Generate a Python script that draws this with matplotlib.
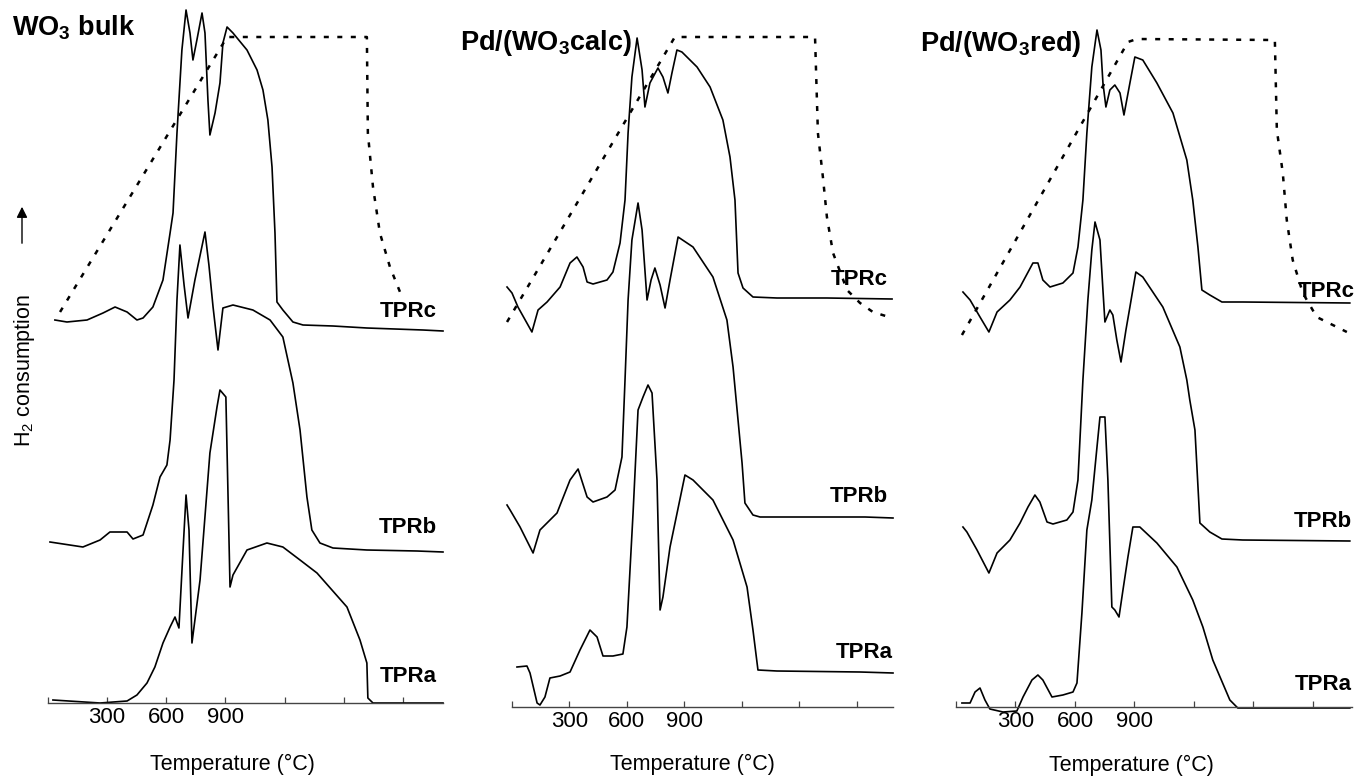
import matplotlib
matplotlib.use('Agg')
import matplotlib.pyplot as plt
from matplotlib.patches import FancyArrowPatch

plt.rcParams['font.family'] = ['Liberation Sans', 'DejaVu Sans']
plt.rcParams['mathtext.fontset'] = 'custom'
plt.rcParams['mathtext.rm'] = 'Liberation Sans'
plt.rcParams['mathtext.default'] = 'regular'

# ---------------- data (x: temperature-scale units, y: stacked H2 signal, a.u.) -------------
tick_values = [0, 300, 600, 900, 1200, 1500, 1800]
tick_labels = ['', '300', '600', '900', '', '', '']
titles = [r'WO$_3$ bulk', r'Pd/(WO$_3$calc)', r'Pd/(WO$_3$red)']
xlabel = 'Temperature (°C)'
ylabel = r'H$_2$ consumption'

# Panel 1: WO3 bulk
wo3_c_x = [35, 96, 198, 279, 340, 401, 451, 482, 532, 583, 619, 634, 654, 679, 700, 720, 735, 755, 781, 796,
           811, 821, 847, 872, 887, 908, 938, 1009, 1060, 1090, 1115, 1136, 1151, 1161, 1191, 1242, 1293,
           1445, 1617, 1901, 2003]
wo3_c_y = [383, 381, 383, 390, 396, 391, 383, 385, 396, 423, 470, 490, 570, 653, 693, 670, 643, 663, 690, 670,
           603, 568, 590, 620, 660, 676, 670, 653, 633, 613, 583, 536, 470, 401, 393, 381, 378,
           377, 375, 373, 372]
wo3_b_x = [10, 177, 264, 314, 401, 431, 482, 507, 532, 568, 603, 619, 639, 654, 669, 690, 710, 745, 796, 816,
           837, 862, 887, 938, 1039, 1126, 1191, 1242, 1278, 1313, 1338, 1379, 1445, 1617, 1871, 2003]
wo3_b_y = [161, 156, 163, 171, 171, 164, 168, 183, 198, 226, 238, 263, 323, 403, 458, 418, 385, 423, 471, 438,
           396, 353, 395, 398, 393, 383, 366, 320, 273, 206, 173, 160, 155, 153, 152, 151]
wo3_a_x = [25, 264, 401, 451, 502, 542, 583, 619, 644, 664, 684, 700, 715, 730, 771, 821, 857, 872, 902, 923,
           938, 1009, 1110, 1191, 1278, 1364, 1516, 1582, 1617, 1622, 1648, 2003]
wo3_a_y = [3, 0, 2, 8, 20, 36, 60, 76, 86, 75, 150, 208, 173, 60, 123, 250, 296, 313, 306, 116,
           128, 153, 160, 156, 143, 130, 96, 63, 40, 5, 0, 0]
wo3_t_x = [61, 908, 1617, 1622, 1648, 1683, 1734, 1785]
wo3_t_y = [391, 666, 666, 570, 516, 470, 436, 411]

# Panel 2: Pd/(WO3calc)
calc_c_x = [-26, 0, 31, 104, 136, 183, 251, 303, 339, 371, 392, 423, 496, 527, 564, 590, 606, 626, 653, 679,
            694, 720, 762, 788, 814, 835, 861, 887, 966, 1034, 1101, 1138, 1164, 1180, 1206, 1258, 1383,
            1644, 1984]
calc_c_y = [420, 414, 400, 375, 397, 405, 420, 444, 450, 440, 425, 423, 427, 435, 464, 507, 574, 630, 669, 637,
            600, 624, 639, 630, 614, 634, 657, 655, 640, 620, 587, 550, 507, 434, 419, 410, 409,
            409, 408]
calc_b_x = [-26, -10, 42, 110, 146, 235, 303, 345, 392, 423, 496, 538, 574, 590, 606, 626, 658, 679, 705, 726,
            746, 773, 799, 825, 867, 945, 1049, 1122, 1154, 1180, 1201, 1216, 1258, 1295, 1467, 1843, 1989]
calc_b_y = [202, 197, 180, 154, 177, 194, 227, 238, 210, 205, 210, 217, 250, 327, 407, 467, 504, 477, 407, 427,
            439, 422, 399, 427, 470, 460, 430, 387, 340, 287, 244, 204, 192, 190, 190, 190, 189]
calc_a_x = [26, 78, 94, 131, 146, 172, 198, 251, 303, 355, 407, 444, 475, 527, 579, 600, 632, 658, 684, 710,
            731, 757, 773, 788, 825, 903, 945, 1049, 1154, 1227, 1258, 1284, 1383, 1817, 1989]
calc_a_y = [40, 41, 34, 4, 2, 10, 29, 31, 35, 57, 77, 70, 51, 51, 53, 80, 194, 297, 310, 322,
            314, 227, 97, 110, 160, 232, 227, 207, 167, 120, 77, 37, 36, 35, 34]
calc_t_x = [-26, 850, 1582, 1597, 1623, 1644, 1676, 1749, 1817, 1884, 1984]
calc_t_y = [385, 670, 670, 574, 530, 490, 454, 417, 404, 395, 389]

# Panel 3: Pd/(WO3red)
red_c_x = [35, 71, 121, 166, 207, 272, 323, 388, 413, 438, 474, 539, 590, 615, 640, 660, 685, 711, 731, 741,
           756, 776, 801, 827, 847, 877, 902, 942, 1013, 1094, 1164, 1194, 1220, 1240, 1280, 1341, 1446, 1986]
red_c_y = [415, 407, 390, 375, 395, 407, 420, 444, 444, 427, 420, 424, 434, 460, 507, 574, 640, 677, 657, 624,
           600, 617, 622, 614, 592, 624, 650, 647, 624, 594, 547, 507, 460, 417, 412, 405, 405, 404]
red_b_x = [35, 55, 106, 166, 207, 272, 323, 363, 398, 423, 459, 489, 559, 590, 615, 640, 665, 685, 701, 726,
           741, 751, 776, 791, 811, 832, 857, 877, 907, 942, 1043, 1129, 1164, 1179, 1205, 1230, 1280, 1341,
           1446, 1986]
red_b_y = [180, 175, 157, 134, 154, 167, 184, 200, 212, 205, 185, 183, 187, 195, 227, 327, 407, 457, 485, 467,
           417, 385, 397, 392, 367, 345, 377, 400, 435, 430, 400, 360, 327, 307, 277, 184, 175, 168,
           167, 166]
red_a_x = [30, 71, 96, 121, 146, 171, 237, 307, 338, 383, 413, 438, 484, 539, 590, 610, 635, 660, 685, 711,
           726, 751, 766, 786, 801, 822, 842, 867, 892, 927, 1013, 1114, 1194, 1245, 1295, 1381, 1421, 1986]
red_a_y = [4, 4, 15, 19, 7, -2, -5, -4, 10, 27, 32, 27, 10, 12, 15, 24, 94, 177, 207, 260,
           290, 290, 227, 100, 97, 90, 117, 150, 180, 180, 164, 140, 107, 80, 47, 7, -1, -1]
red_t_x = [30, 867, 912, 1608, 1618, 1648, 1668, 1698, 1749, 1819, 1971]
red_t_y = [372, 665, 668, 667, 577, 534, 487, 447, 414, 390, 375]

curve_names = ['TPRc', 'TPRb', 'TPRa']
label_pos = [
    [(1972, 386), (1972, 170), (1972, 21)],
    [(1963, 422), (1963, 205), (1989, 49)],
    [(2011, 410), (1996, 180), (1996, 17)],
]

# ---------------- layout ----------------
W, H = 1356, 776
fig = plt.figure(figsize=(W / 100, H / 100), dpi=100)

panels = [
    dict(geom=(48, 703, 395), xmax=2003,
         curves=[(wo3_c_x, wo3_c_y), (wo3_b_x, wo3_b_y), (wo3_a_x, wo3_a_y)], temp=(wo3_t_x, wo3_t_y),
         title_pos=(12, 36), xlabel_pos=(232, 770)),
    dict(geom=(512, 707, 381), xmax=1989,
         curves=[(calc_c_x, calc_c_y), (calc_b_x, calc_b_y), (calc_a_x, calc_a_y)], temp=(calc_t_x, calc_t_y),
         title_pos=(460, 50), xlabel_pos=(692, 770)),
    dict(geom=(956, 707, 396), xmax=1997,
         curves=[(red_c_x, red_c_y), (red_b_x, red_b_y), (red_a_x, red_a_y)], temp=(red_t_x, red_t_y),
         title_pos=(920, 51), xlabel_pos=(1131, 771)),
]

for i, p in enumerate(panels):
    left, axis_y, width = p['geom']
    ax = fig.add_axes([left / W, (H - axis_y) / H, width / W, axis_y / H])
    ax.set_xlim(0, p['xmax'])
    ax.set_ylim(0, axis_y)
    for s in ['left', 'right', 'top']:
        ax.spines[s].set_visible(False)
    ax.spines['bottom'].set_color('#444444')
    ax.spines['bottom'].set_linewidth(1.0)
    ax.set_yticks([])
    ax.set_xticks(tick_values)
    ax.set_xticklabels(tick_labels)
    ax.tick_params(axis='x', direction='in', length=4, width=0.9, color='#444444',
                   labelsize=16, pad=3)
    ax.patch.set_alpha(0)

    for (xs, ys) in p['curves']:
        ax.plot(xs, ys, color='black', lw=1.2, clip_on=False, solid_joinstyle='round')
    tx, ty = p['temp']
    ax.plot(tx, ty, color='black', lw=1.8, linestyle=(0, (2.0, 3.4)), clip_on=False)

    for name, (lx, ly) in zip(curve_names, label_pos[i]):
        ax.text(lx, ly, name, ha='right', va='baseline', fontsize=16, fontweight='bold', clip_on=False)

    tx0, ty0 = p['title_pos']
    fig.text(tx0 / W, 1 - ty0 / H, titles[i], fontsize=19.5, fontweight='bold', ha='left', va='baseline')
    xl, yl = p['xlabel_pos']
    fig.text(xl / W, 1 - yl / H, xlabel, fontsize=15.5, ha='center', va='baseline')

fig.text(24.5 / W, 1 - 370 / H, ylabel, rotation=90, ha='center', va='center', fontsize=15.5)
fig.add_artist(FancyArrowPatch((22 / W, 1 - 246 / H), (22 / W, 1 - 204 / H), transform=fig.transFigure,
                               arrowstyle='-|>', mutation_scale=16, lw=1.0, color='black'))

fig.savefig('out.png', dpi=100)
